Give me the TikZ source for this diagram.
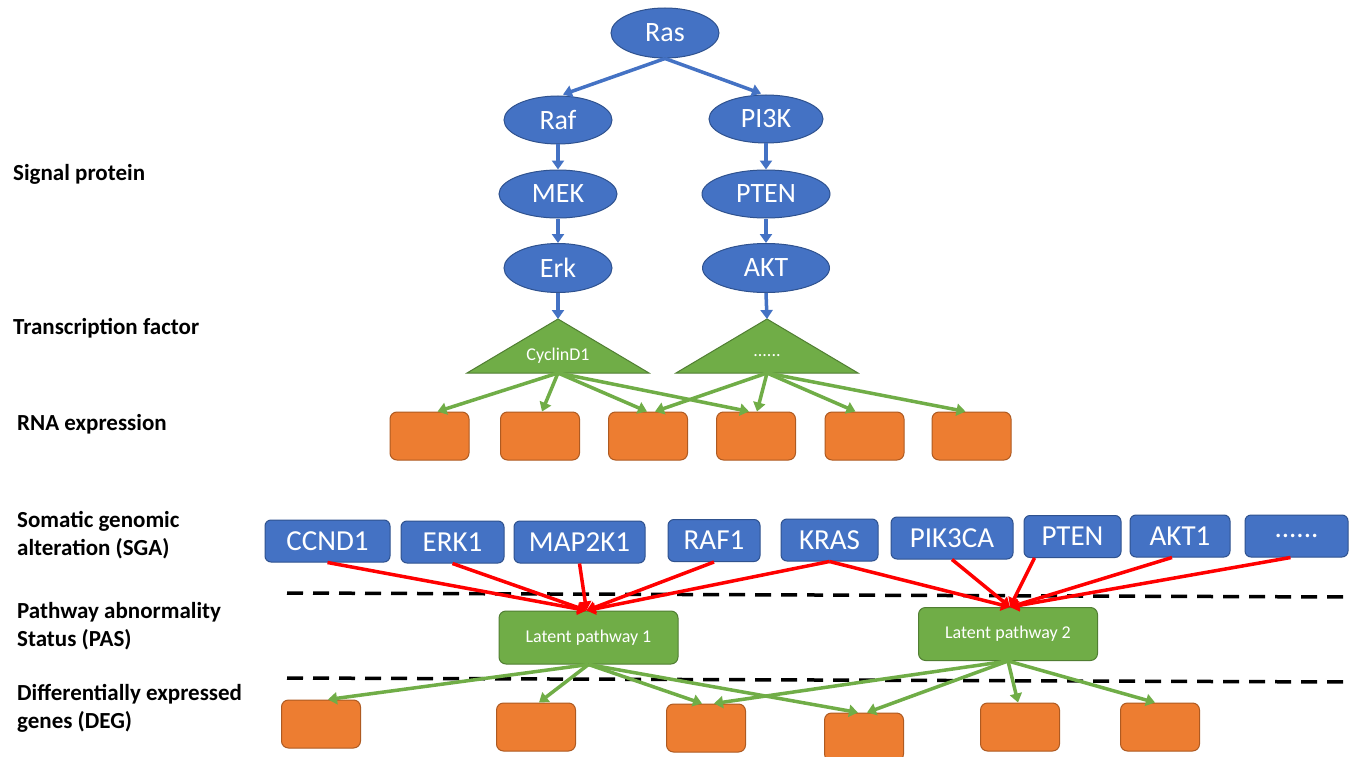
\documentclass[tikz,border=0pt]{standalone}
\usepackage{fontspec}
\setmainfont{Carlito}
\usetikzlibrary{shapes.geometric,arrows.meta}
\definecolor{bfill}{HTML}{4472C4}
\definecolor{bdraw}{HTML}{2F528F}
\definecolor{gfill}{HTML}{70AD47}
\definecolor{gdraw}{HTML}{507E32}
\definecolor{ofill}{HTML}{ED7D31}
\definecolor{odraw}{HTML}{AE5A21}
\definecolor{rline}{HTML}{FF0000}
\begin{document}
\begin{tikzpicture}[x=1pt,y=-1pt,
 ell/.style={ellipse, fill=bfill, draw=bdraw, line width=1pt, text=white, font=\fontsize{28}{28}\selectfont, inner sep=0pt, minimum height=49pt},
 sga/.style={rectangle, rounded corners=6pt, fill=bfill, draw=bdraw, line width=1pt, text=white, font=\fontsize{29}{29}\selectfont, inner sep=0pt, minimum height=42pt},
 lat/.style={rectangle, rounded corners=7pt, fill=gfill, draw=gdraw, line width=1pt, text=white, font=\fontsize{18}{18}\selectfont, minimum width=179pt, minimum height=53pt},
 obox/.style={rectangle, rounded corners=7pt, fill=ofill, draw=odraw, line width=1pt, minimum width=79pt, minimum height=48pt},
 lab/.style={anchor=west, inner sep=0pt, font=\bfseries\fontsize{23}{28}\selectfont, align=left},
 tftext/.style={text=white, font=\fontsize{18}{18}\selectfont, inner sep=0pt},
 tri/.style={fill=gfill, draw=gdraw, line width=1pt},
 barrow/.style={draw=bfill, line width=3.5pt, -{Triangle[length=9pt,width=12pt]}},
 garrow/.style={draw=gfill, line width=3.5pt, -{Triangle[length=9pt,width=12pt]}},
 rarrow/.style={draw=rline, line width=3.5pt, -{Triangle[length=9pt,width=12pt]}},
 sep/.style={draw=black, line width=3.5pt, dash pattern=on 16pt off 10pt}]

\fill[white] (0,0) rectangle (1357,757);
\useasboundingbox (0,0) rectangle (1357,757);

% row labels
\node[lab] (lsig) at (13,174) {Signal protein};
\node[lab] (ltf) at (13,328) {Transcription factor};
\node[lab] (lrna) at (17,424) {RNA expression};
\node[lab] (lsga) at (17,535) {Somatic genomic\\alteration (SGA)};
\node[lab] (lpas) at (17,626) {Pathway abnormality\\Status (PAS)};
\node[lab] (ldeg) at (17,708) {Differentially expressed\\genes (DEG)};

% dashed separators
\coordinate (s1a) at (287,593);
\coordinate (s1b) at (1345,597);
\coordinate (s2a) at (287,678);
\coordinate (s2b) at (1345,682);
\draw[sep] (s1a) -- (s1b);
\draw[sep] (s2a) -- (s2b);

% signal proteins
\node[ell, minimum width=108pt, minimum height=50pt] (ras) at (665,33) {Ras};
\node[ell, minimum width=108pt, minimum height=48pt] (raf) at (558,120) {Raf};
\node[ell, minimum width=114pt, minimum height=48pt] (pi3k) at (766,119) {PI3K};
\node[ell, minimum width=118pt, minimum height=48pt] (mek) at (558,194) {MEK};
\node[ell, minimum width=128pt, minimum height=48pt] (pten) at (766,194) {PTEN};
\node[ell, minimum width=108pt] (erk) at (558,268) {Erk};
\node[ell, minimum width=127pt] (akt) at (766,268) {AKT};

% transcription factors
\coordinate (t1top) at (558,319);
\coordinate (t1bot) at (558,373);
\coordinate (t2top) at (767,319);
\coordinate (t2bot) at (767,373);
\filldraw[tri] (t1top) -- (649,373) -- (467,373) -- cycle;
\filldraw[tri] (t2top) -- (858,373) -- (676,373) -- cycle;
\node[tftext] (t1txt) at (558,356) {CyclinD1};
\node[tftext] (t2txt) at (767,356) {......};

% RNA boxes
\node[obox] (r1) at (429.5,436) {};
\node[obox] (r2) at (540,436) {};
\node[obox] (r3) at (648,436) {};
\node[obox] (r4) at (756,436) {};
\node[obox] (r5) at (864.5,436) {};
\node[obox] (r6) at (971.5,436) {};

% SGA boxes
\node[sga, minimum width=125pt] (ccnd1) at (327.5,541) {CCND1};
\node[sga, minimum width=103pt] (erk1) at (452.5,542) {ERK1};
\node[sga, minimum width=131pt] (map2k1) at (579.5,542) {MAP2K1};
\node[sga, minimum width=92pt] (raf1) at (714,540.5) {RAF1};
\node[sga, minimum width=97pt] (kras) at (829.5,540) {KRAS};
\node[sga, minimum width=122pt] (pik3ca) at (952,538) {PIK3CA};
\node[sga, minimum width=97pt] (ptensga) at (1072.5,536.5) {PTEN};
\node[sga, minimum width=100pt] (akt1) at (1180,536) {AKT1};
\node[sga, minimum width=103pt] (more) at (1296.5,536) {......};

% latent pathways
\node[lat] (lp1) at (588.5,637.5) {Latent pathway 1};
\node[lat] (lp2) at (1008,634) {Latent pathway 2};

% DEG boxes
\node[obox] (d1) at (321,724) {};
\node[obox] (d2) at (536,727) {};
\node[obox] (d3) at (706,728) {};
\node[obox] (d4) at (864,737) {};
\node[obox] (d5) at (1020,727) {};
\node[obox] (d6) at (1160,727) {};

% blue arrows
\draw[barrow] (ras.south) -- ([xshift=5pt,yshift=1pt]raf.north);
\draw[barrow] (ras.south) -- ([xshift=-5pt,yshift=1pt]pi3k.north);
\draw[barrow] (raf) -- (mek);
\draw[barrow] (mek) -- (erk);
\draw[barrow] (pi3k) -- (pten);
\draw[barrow] (pten) -- (akt);
\draw[barrow] (erk) -- (t1top);
\draw[barrow] (akt.south) -- (t2top);

% green arrows to RNA
\draw[garrow] (t1bot) -- ([xshift=8pt]r1.north);
\draw[garrow] (t1bot) -- ([xshift=2pt]r2.north);
\draw[garrow] (t1bot) -- ([xshift=-1pt]r3.north);
\draw[garrow] (t1bot) -- ([xshift=-7pt]r4.north);
\draw[garrow] (t2bot) -- ([xshift=7pt]r3.north);
\draw[garrow] (t2bot) -- ([xshift=1pt]r4.north);
\draw[garrow] (t2bot) -- ([xshift=-9pt]r5.north);
\draw[garrow] (t2bot) -- ([xshift=-6pt]r6.north);

% red arrows SGA -> PAS
\draw[rarrow] (ccnd1.south) -- ([xshift=-2pt]lp1.north);
\draw[rarrow] (erk1.south) -- ([xshift=-2pt]lp1.north);
\draw[rarrow] (map2k1.south) -- ([xshift=-2pt]lp1.north);
\draw[rarrow] (raf1.south) -- ([xshift=-2pt]lp1.north);
\draw[rarrow] (kras.south) -- ([xshift=-2pt]lp1.north);
\draw[rarrow] (kras.south) -- ([xshift=2pt]lp2.north);
\draw[rarrow] (pik3ca.south) -- ([xshift=2pt]lp2.north);
\draw[rarrow] ([xshift=-38pt]ptensga.south) -- ([xshift=2pt]lp2.north);
\draw[rarrow] ([xshift=-8pt]akt1.south) -- ([xshift=2pt]lp2.north);
\draw[rarrow] ([xshift=-6pt]more.south) -- ([xshift=2pt]lp2.north);

% green arrows PAS -> DEG
\draw[garrow] (lp1.south) -- ([xshift=7pt]d1.north);
\draw[garrow] (lp1.south) -- ([xshift=3pt]d2.north);
\draw[garrow] (lp1.south) -- ([xshift=-4pt]d3.north);
\draw[garrow] (lp1.south) -- ([xshift=-6pt]d4.north);
\draw[garrow] (lp2.south) -- ([xshift=8pt]d3.north);
\draw[garrow] (lp2.south) -- ([xshift=3pt]d4.north);
\draw[garrow] (lp2.south) -- ([xshift=-2pt]d5.north);
\draw[garrow] (lp2.south) -- ([xshift=-5pt]d6.north);
\end{tikzpicture}
\end{document}
